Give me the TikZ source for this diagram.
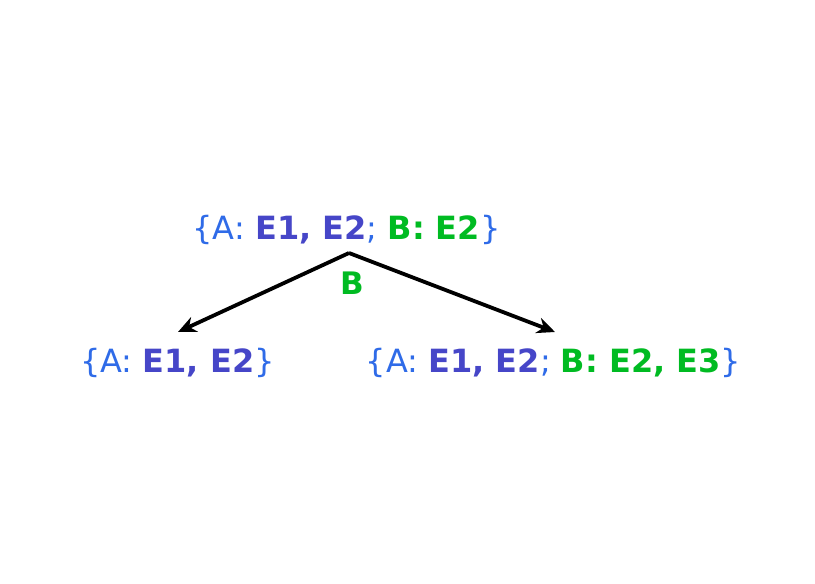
\documentclass[tikz,border=0pt]{standalone}
\usepackage{fontspec}
\setmainfont{DejaVu Sans}
\usetikzlibrary{arrows.meta}
\definecolor{cblue}{HTML}{2F6BE8}
\definecolor{cind}{HTML}{4646C8}
\definecolor{cgreen}{HTML}{00BB22}
\newcommand{\bl}[1]{\textcolor{cblue}{#1}}
\newcommand{\ind}[1]{\textcolor{cind}{\bfseries #1}}
\newcommand{\gr}[1]{\textcolor{cgreen}{\bfseries #1}}
\begin{document}
\begin{tikzpicture}[x=1pt,y=1pt,
  settxt/.style={inner sep=0pt,anchor=base,font=\fontsize{32}{38}\selectfont},
  conn/.style={line width=3.8pt,-{Stealth[length=18pt,width=16pt]}}]
\useasboundingbox[fill=white] (0,0) rectangle (815,584);
\node[settxt] (top) at (346.5,344) {\bl{\{A:} \ind{E1, E2}\bl{;} \gr{B: E2}\bl{\}}};
\node[settxt] (left) at (177.5,211) {\bl{\{A:} \ind{E1, E2}\bl{\}}};
\node[settxt] (right) at (553.5,211) {\bl{\{A:} \ind{E1, E2}\bl{;} \gr{B: E2, E3}\bl{\}}};
\coordinate (apex) at (349,331);
\coordinate (lend) at (178,252);
\coordinate (rend) at (555,252);
\draw[conn] (apex) -- (lend);
\draw[conn] (apex) -- (rend);
\node[inner sep=0pt,anchor=base,font=\fontsize{31}{36}\selectfont\bfseries,text=cgreen] (lab) at (352,289) {B};
\end{tikzpicture}
\end{document}
